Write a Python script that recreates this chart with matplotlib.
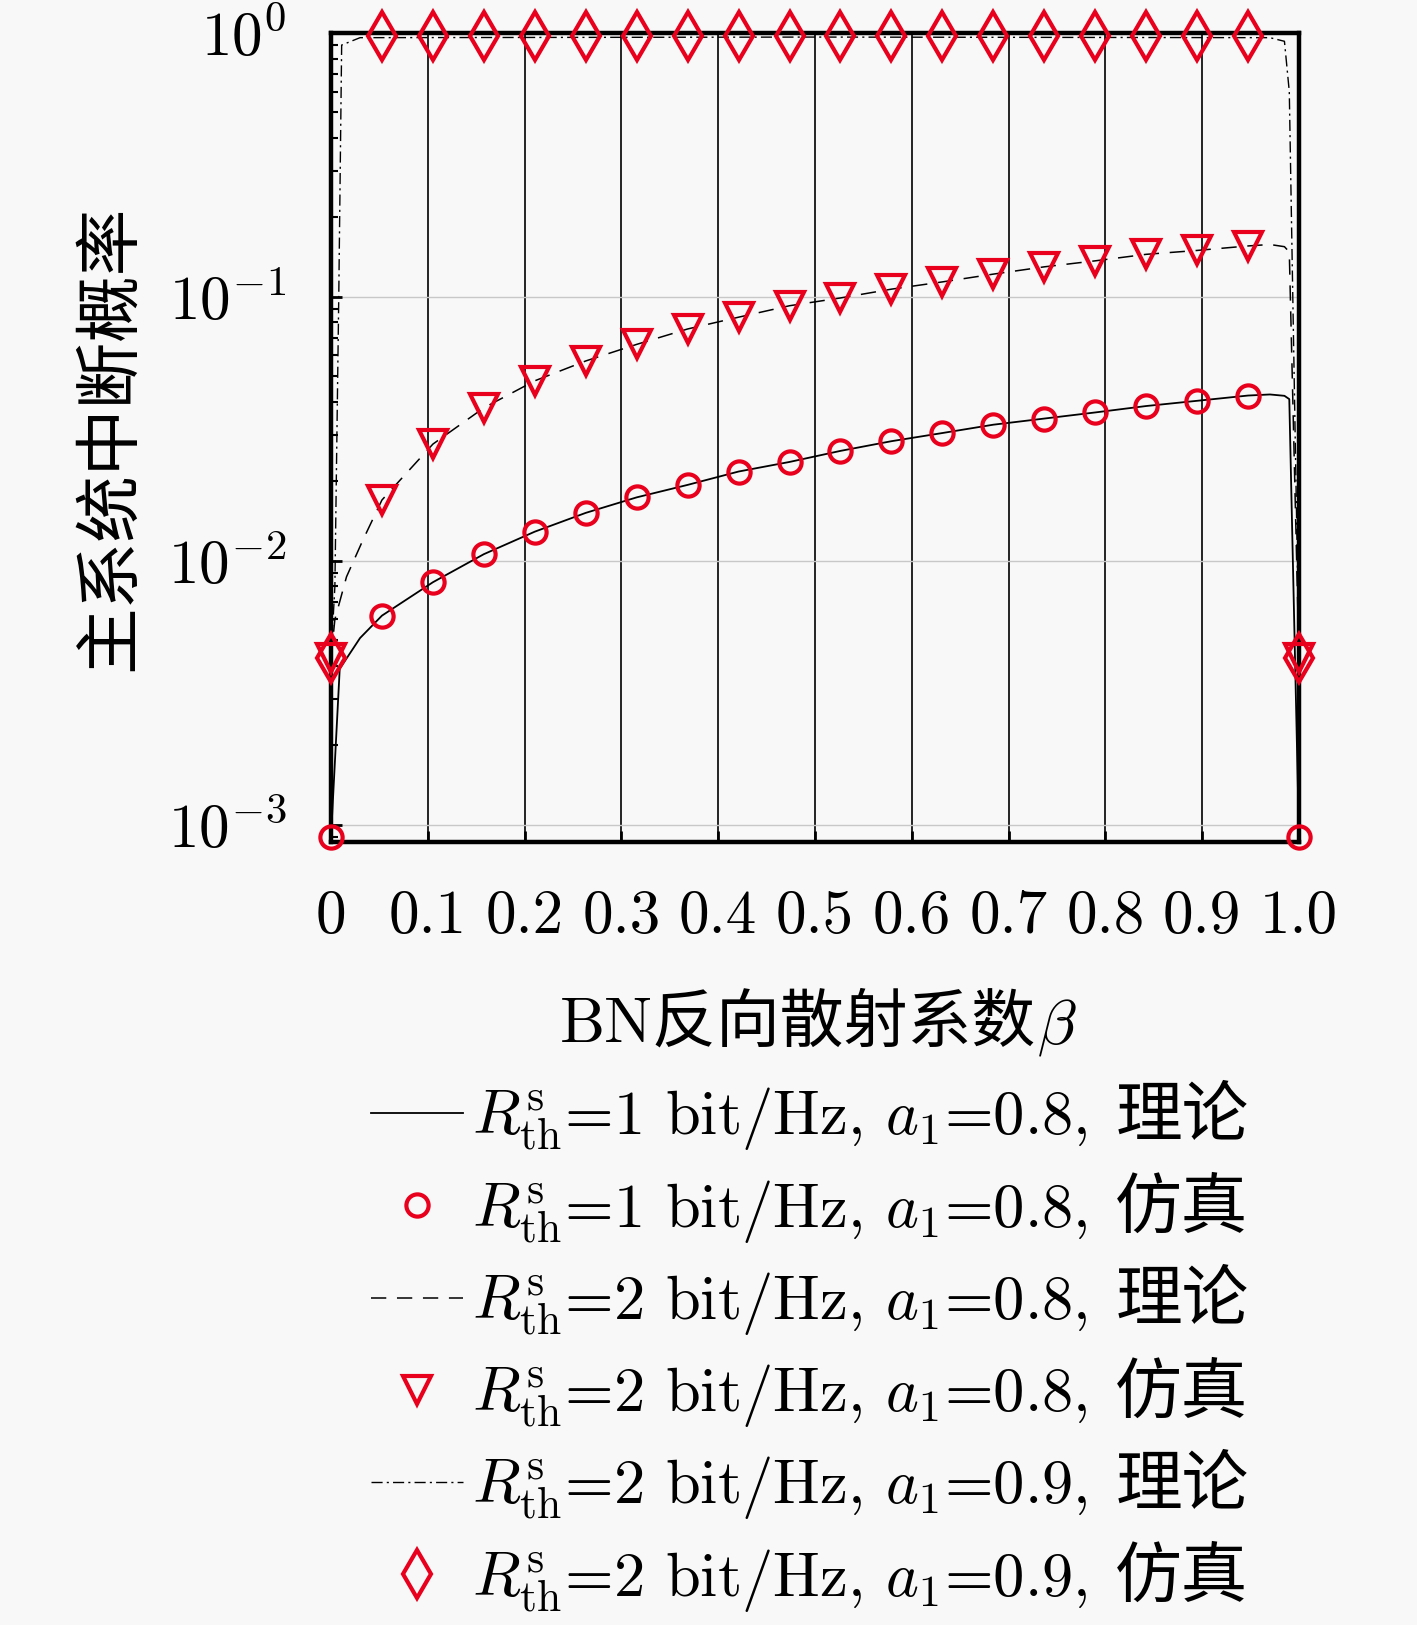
import numpy as np
import matplotlib
matplotlib.use("Agg")
import matplotlib.pyplot as plt
from matplotlib.text import Annotation
from matplotlib.ticker import LogLocator, NullFormatter

#-------------------------------------------------------------------------------
# DATA
beta_sim = [0, 0.0526, 0.1053, 0.1579, 0.2105, 0.2632, 0.3158, 0.3684, 0.4211,
            0.4737, 0.5263, 0.5789, 0.6316, 0.6842, 0.7368, 0.7895, 0.8421,
            0.8947, 0.9474, 1.0]

# R_th = 1 bit/Hz, a1 = 0.8, simulation
sim_r1_a08 = [9.0e-4, 6.2e-3, 8.3e-3, 1.06e-2, 1.29e-2, 1.52e-2, 1.74e-2,
              1.94e-2, 2.18e-2, 2.37e-2, 2.61e-2, 2.84e-2, 3.05e-2, 3.28e-2,
              3.46e-2, 3.65e-2, 3.86e-2, 4.04e-2, 4.23e-2, 9.0e-4]
# R_th = 2 bit/Hz, a1 = 0.8, simulation
sim_r2_a08 = [4.3e-3, 1.70e-2, 2.77e-2, 3.80e-2, 4.81e-2, 5.72e-2, 6.61e-2,
              7.56e-2, 8.38e-2, 9.26e-2, 9.91e-2, 0.107, 0.114, 0.122, 0.130,
              0.137, 0.145, 0.150, 0.156, 4.3e-3]
# R_th = 2 bit/Hz, a1 = 0.9, simulation
sim_r2_a09 = [4.3e-3, 0.975, 0.975, 0.975, 0.975, 0.975, 0.975, 0.975, 0.975,
              0.975, 0.975, 0.975, 0.975, 0.975, 0.975, 0.975, 0.975, 0.975,
              0.975, 4.3e-3]

# theory curves
beta_th1 = [0, 0.009, 0.03, 0.0526, 0.1053, 0.1579, 0.2105, 0.2632, 0.3158,
            0.3684, 0.4211, 0.4737, 0.5263, 0.5789, 0.6316, 0.6842, 0.7368,
            0.7895, 0.8421, 0.8947, 0.9474, 0.97, 0.985, 0.99, 1.0]
th_r1_a08 = [9.0e-4, 3.9e-3, 5.1e-3, 6.2e-3, 8.3e-3, 1.06e-2, 1.29e-2, 1.52e-2,
             1.74e-2, 1.94e-2, 2.18e-2, 2.37e-2, 2.61e-2, 2.84e-2, 3.05e-2,
             3.28e-2, 3.46e-2, 3.65e-2, 3.86e-2, 4.04e-2, 4.23e-2, 4.27e-2,
             4.22e-2, 4.1e-2, 9.0e-4]

beta_th2 = [0, 0.004, 0.016, 0.033, 0.0526, 0.1053, 0.1579, 0.2105, 0.2632,
            0.3158, 0.3684, 0.4211, 0.4737, 0.5263, 0.5789, 0.6316, 0.6842,
            0.7368, 0.7895, 0.8421, 0.8947, 0.9474, 0.97, 0.985, 0.99, 1.0]
th_r2_a08 = [4.3e-3, 6.0e-3, 8.7e-3, 1.2e-2, 1.70e-2, 2.77e-2, 3.80e-2,
             4.81e-2, 5.72e-2, 6.61e-2, 7.56e-2, 8.38e-2, 9.26e-2, 9.91e-2,
             0.107, 0.114, 0.122, 0.130, 0.137, 0.145, 0.150, 0.156, 0.158,
             0.155, 0.148, 4.3e-3]

beta_th3 = [0, 0.004, 0.008, 0.011, 0.03, 0.5, 0.97, 0.985, 0.99, 1.0]
th_r2_a09 = [4.3e-3, 8.0e-3, 0.1, 0.9, 0.96, 0.965, 0.96, 0.93, 0.6, 4.3e-3]

xtick_vals = [0, 0.1, 0.2, 0.3, 0.4, 0.5, 0.6, 0.7, 0.8, 0.9, 1.0]
xtick_labels = ['0', '0.1', '0.2', '0.3', '0.4', '0.5', '0.6', '0.7', '0.8',
                '0.9', '1.0']

lab = r'$R^{\mathrm{s}}_{\mathrm{th}}$=%d bit/Hz, $a_1$=%s,'
labels = [lab % (1, '0.8'), lab % (1, '0.8'), lab % (2, '0.8'),
          lab % (2, '0.8'), lab % (2, '0.9'), lab % (2, '0.9')]
label_cn = ['理论', '仿真', '理论', '仿真', '理论', '仿真']
#-------------------------------------------------------------------------------

plt.rcParams['font.family'] = ['cmr10', 'Noto Sans CJK SC']
plt.rcParams['mathtext.fontset'] = 'cm'
plt.rcParams['axes.unicode_minus'] = False
plt.rcParams['axes.formatter.use_mathtext'] = True

fig = plt.figure(figsize=(14.17, 16.25), dpi=100)
fig.patch.set_facecolor('#f8f8f8')
ax = fig.add_axes([0.2336, 0.4818, 0.6831, 0.4979])
ax.set_facecolor('#f8f8f8')

red = '#e8001c'
mk = dict(linestyle='none', markerfacecolor='none', markeredgecolor=red,
          markeredgewidth=3.0, zorder=5, clip_on=False)

ax.plot(beta_th1, th_r1_a08, '-', color='k', lw=1.3, label=labels[0])
ax.plot(beta_sim, sim_r1_a08, marker='o', markersize=16, label=labels[1], **mk)
ax.plot(beta_th2, th_r2_a08, '--', color='k', lw=1.1, dashes=(10, 7),
        label=labels[2])
ax.plot(beta_sim, sim_r2_a08, marker='v', markersize=20, label=labels[3], **mk)
ax.plot(beta_th3, th_r2_a09, '-.', color='k', lw=1.0, dashes=(8, 3, 1.5, 3),
        label=labels[4])
ax.plot(beta_sim, sim_r2_a09, marker='d', markersize=24, label=labels[5], **mk)

ax.set_yscale('log')
ax.set_xlim(0, 1.0)
ax.set_ylim(8.6e-4, 1.0)
ax.set_xticks(xtick_vals)
ax.set_xticklabels(xtick_labels)
ax.yaxis.set_major_locator(LogLocator(base=10, numticks=10))
ax.yaxis.set_minor_locator(LogLocator(base=10, subs=np.arange(2, 10), numticks=10))
ax.yaxis.set_minor_formatter(NullFormatter())

ax.xaxis.grid(True, color='k', lw=1.2)
ax.yaxis.grid(True, which='major', color='#c8c8c8', lw=1.0)
ax.tick_params(axis='both', which='major', direction='in', length=8, width=2,
               labelsize=44)
ax.tick_params(axis='x', which='major', pad=34)
ax.tick_params(axis='y', which='major', pad=32)
ax.tick_params(axis='y', which='minor', direction='in', length=5, width=1.5)
for s in ax.spines.values():
    s.set_linewidth(3.2)

xl = ax.set_xlabel('BN反向散射系数', fontsize=46, labelpad=36)
ax.xaxis.label.set_x(0.482)
fig.add_artist(Annotation(r'$\beta$', xy=(1, 0.5), xycoords=xl,
                          xytext=(1, -2), textcoords='offset points',
                          ha='left', va='center', fontsize=46))
ax.set_ylabel('主系统中断概率', fontsize=48, labelpad=19)

leg = ax.legend(loc='upper left', bbox_to_anchor=(0.244, 0.347),
                bbox_transform=fig.transFigure, frameon=False, fontsize=45,
                handlelength=1.47, handletextpad=0.15, labelspacing=0.4,
                borderaxespad=0)
for t, cn in zip(leg.get_texts(), label_cn):
    fig.add_artist(Annotation(cn, xy=(1, 0.5), xycoords=t, xytext=(20, 2),
                              textcoords='offset points', ha='left',
                              va='center', fontsize=48,
                              family='Noto Sans CJK SC'))

fig.savefig('out.png', dpi=100, facecolor=fig.get_facecolor())
